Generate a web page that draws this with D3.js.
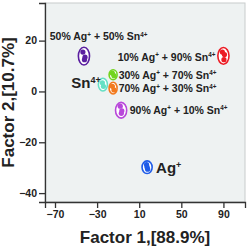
<!DOCTYPE html>
<html><head><meta charset="utf-8">
<script src="https://cdn.jsdelivr.net/npm/d3@7"></script>
<style>html,body{margin:0;padding:0;background:#fff;}svg{display:block;}</style>
</head><body>
<svg id="c" width="247" height="248"></svg>
<script>
const clusters = ["50/50", "10/90", "30/70", "Sn", "70/30", "90/10", "Ag"];
const colors = ["#5a1fa0", "#ec1c24", "#72d41c", "#66e0c4", "#f27a1e", "#b848da", "#1f5ce8"];
// cluster centres (Factor 1, Factor 2)
const centerX = [-42.5, 90, -14.8, -24.5, -14.8, -7.2, 17.5];
const centerY = [13.9, 14.0, 6.6, 2.7, 1.3, -7.4, -29.8];
// ellipse semi-axes (data units)
const semiX = [5.3, 5.3, 3.8, 4.3, 3.8, 5.3, 4.8];
const semiY = [3.5, 3.3, 1.95, 2.5, 2.3, 3.1, 2.5];
// scores inside each cluster
const ptsX = [[-43.5,-41.5,-42.0],[89.0,91.0,90.5],[-15.5,-14.0],[-25.0,-24.0],[-15.5,-14.0],[-8.0,-6.5,-7.0],[17.0,18.0,17.5]];
const ptsY = [[15.5,13.5,12.5],[15.5,14.5,12.5],[7.2,6.2],[3.4,2.0],[2.0,0.6],[-5.8,-7.6,-8.6],[-28.8,-30.6,-29.8]];
const xTicks = [-70, -30, 10, 50, 90];
const yTicks = [20, 0, -20, -40];
const labels = [
  {parts:[["50% Ag",""],["+","s"],[" + 50% Sn",""],["4+","s"]], fx:-75.0, fy:20.1, size:10.5},
  {parts:[["10% Ag",""],["+","s"],[" + 90% Sn",""],["4+","s"]], fx:-10.5, fy:12.0, size:10.5},
  {parts:[["30% Ag",""],["+","s"],[" + 70% Sn",""],["4+","s"]], fx:-9.5, fy:5.0, size:10.5},
  {parts:[["70% Ag",""],["+","s"],[" + 30% Sn",""],["4+","s"]], fx:-9.5, fy:-0.4, size:10.5},
  {parts:[["90% Ag",""],["+","s"],[" + 10% Sn",""],["4+","s"]], fx:1.0, fy:-8.9, size:10.5},
  {parts:[["Sn",""],["4+","s"]], fx:-54.5, fy:1.4, size:15},
  {parts:[["Ag",""],["+","s"]], fx:26.0, fy:-32.0, size:15}
];

const svg = d3.select("#c");
const L = 45, R = 245, T = 3, B = 202;
const x = d3.scaleLinear().domain([-79.5, 110.5]).range([L, R]);
const y = d3.scaleLinear().domain([34.8, -43.5]).range([T, B]);
const font = "'Liberation Sans', Arial, sans-serif";

svg.append("rect").attr("x", L).attr("y", T).attr("width", R - L).attr("height", B - T)
  .attr("fill", "#eef2f2").attr("stroke", "#c8cccc").attr("stroke-width", 1);

const xa = svg.append("g").attr("transform", `translate(0,${B})`)
  .call(d3.axisBottom(x).tickValues(xTicks).tickSize(6).tickPadding(3));
const ya = svg.append("g").attr("transform", `translate(${L},0)`)
  .call(d3.axisLeft(y).tickValues(yTicks).tickSize(6).tickPadding(2));
[xa, ya].forEach(a => {
  a.selectAll("path,line").attr("stroke", "#333").attr("stroke-width", 1.3);
  a.selectAll("text").attr("font-family", font).attr("font-weight", "bold")
    .attr("font-size", 10.5).attr("fill", "#222");
});

const g = svg.append("g");
clusters.forEach((c, i) => {
  g.append("ellipse").attr("cx", x(centerX[i])).attr("cy", y(centerY[i]))
    .attr("rx", x(centerX[i] + semiX[i]) - x(centerX[i]))
    .attr("ry", y(centerY[i] - semiY[i]) - y(centerY[i]))
    .attr("fill", "#fff").attr("stroke", colors[i]).attr("stroke-width", 1.6);
  ptsX[i].forEach((px, j) => {
    g.append("circle").attr("cx", x(px)).attr("cy", y(ptsY[i][j])).attr("r", 2.6)
      .attr("fill", colors[i]);
  });
});

labels.forEach(l => {
  const t = svg.append("text").attr("x", x(l.fx)).attr("y", y(l.fy))
    .attr("font-family", font).attr("font-weight", "bold").attr("font-size", l.size).attr("fill", "#222");
  l.parts.forEach(p => {
    const ts = t.append("tspan").text(p[0]);
    if (p[1] === "s") ts.attr("font-size", l.size * 0.6).attr("dy", -l.size * 0.35);
    else ts.attr("dy", 0);
  });
  t.selectAll("tspan").each(function(d, k, nodes) {
    const prev = k > 0 ? nodes[k-1] : null;
    if (prev && prev.getAttribute("font-size") && !this.getAttribute("font-size")) {
      d3.select(this).attr("dy", l.size * 0.35);
    }
  });
});

svg.append("text").attr("x", (L + R) / 2).attr("y", 243).attr("text-anchor", "middle")
  .attr("font-family", font).attr("font-weight", "bold").attr("font-size", 17).attr("fill", "#222")
  .text("Factor 1,[88.9%]");
svg.append("text").attr("transform", `translate(14,${(T + B) / 2}) rotate(-90)`).attr("text-anchor", "middle")
  .attr("font-family", font).attr("font-weight", "bold").attr("font-size", 17).attr("fill", "#222")
  .text("Factor 2,[10.7%]");
</script>
</body></html>
